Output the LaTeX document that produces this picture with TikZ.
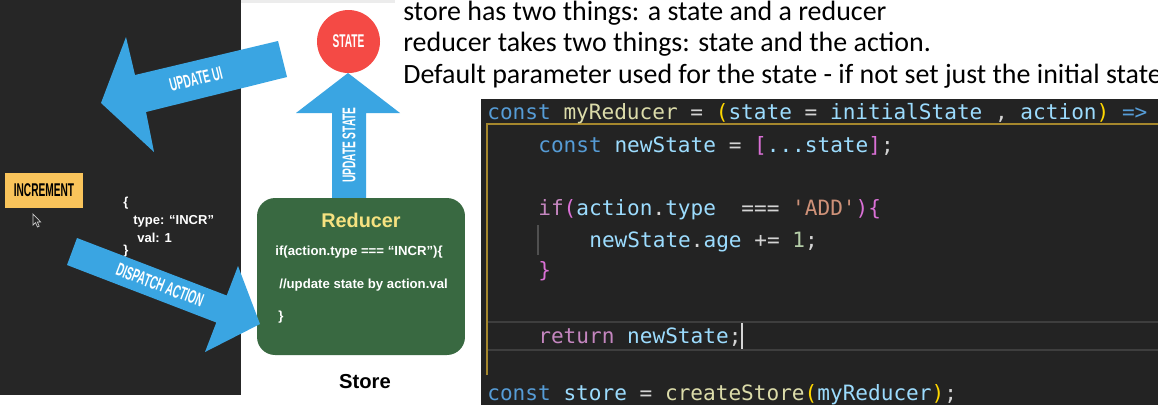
\documentclass[tikz,border=0pt]{standalone}
\usepackage{fontspec}
\usepackage{xcolor}
\setmainfont{Liberation Sans}
\setmonofont{DejaVu Sans Mono}
\newfontfamily\slidefont[FakeStretch=0.55]{Liberation Sans}
\newfontfamily\notefont{Carlito}

\definecolor{slidebg}{RGB}{38,38,38}
\definecolor{codebg}{RGB}{35,35,35}
\definecolor{stripgray}{RGB}{236,236,236}
\definecolor{arrowblue}{RGB}{58,165,226}
\definecolor{statered}{RGB}{244,74,69}
\definecolor{incyellow}{RGB}{249,196,91}
\definecolor{reducergreen}{RGB}{57,105,65}
\definecolor{reduceryellow}{RGB}{246,226,128}
\definecolor{framegold}{RGB}{165,135,45}
\definecolor{linegray}{RGB}{62,62,62}
\definecolor{guidegray}{RGB}{80,80,80}
\definecolor{ckw}{RGB}{86,156,214}
\definecolor{cfn}{RGB}{220,220,170}
\definecolor{cvar}{RGB}{156,220,254}
\definecolor{cop}{RGB}{212,212,212}
\definecolor{cbra}{RGB}{255,215,0}
\definecolor{cbrb}{RGB}{218,112,214}
\definecolor{cctl}{RGB}{197,134,192}
\definecolor{cstr}{RGB}{206,145,120}
\definecolor{cnum}{RGB}{181,206,168}

\newcommand{\kw}[1]{\textcolor{ckw}{#1}}
\newcommand{\fn}[1]{\textcolor{cfn}{#1}}
\newcommand{\vr}[1]{\textcolor{cvar}{#1}}
\newcommand{\bra}[1]{\textcolor{cbra}{#1}}
\newcommand{\brb}[1]{\textcolor{cbrb}{#1}}
\newcommand{\ctl}[1]{\textcolor{cctl}{#1}}

\begin{document}
\begin{tikzpicture}[x=0.02cm,y=-0.02cm,
  blockarrow/.style={fill=arrowblue},
  slidelabel/.style={text=white,inner sep=0pt,font=\slidefont\bfseries\fontsize{10.5}{11}\selectfont},
  noteline/.style={anchor=base west,inner sep=0pt,font=\notefont\fontsize{15.9}{18}\selectfont},
  codeline/.style={anchor=base west,inner sep=0pt,text=cop,font=\ttfamily\fontsize{12}{14}\selectfont},
  actiontext/.style={anchor=west,inner sep=0pt,text=white,font=\bfseries\fontsize{7.4}{9}\selectfont},
  reducertext/.style={anchor=west,inner sep=0pt,text=white,font=\bfseries\fontsize{7.5}{9}\selectfont}]
  \useasboundingbox (0,0) rectangle (1158,414);
  \clip (0,0) rectangle (1158,414);
  \fill[white] (0,0) rectangle (1158,414);

  % panels
  \fill[slidebg] (0,0) rectangle (241,395);
  \fill[stripgray] (241,0) rectangle (395,2.5);
  \fill[codebg] (481,99) rectangle (1158,405);

  % notes
  \node[noteline] (note1) at (403,20) {store has two things: a state and a reducer};
  \node[noteline] (note2) at (403,51) {reducer takes two things: state and the action.};
  \node[noteline] (note3) at (403,83) {Default parameter used for the state - if not set just the initial state};

  % editor
  \draw[framegold,line width=1pt] (487,375) -- (487,124) -- (1158,124);
  \draw[linegray,line width=1.2pt] (488,322) -- (1158,322);
  \draw[linegray,line width=1.2pt] (488,350) -- (1158,350);
  \draw[guidegray,line width=0.8pt] (538,225) -- (538,255);
  \node[codeline] (c1) at (487,119) {\kw{const} \fn{myReducer} = \bra{(}\vr{state} = \vr{initialState} , \vr{action}\bra{)} \kw{=>}};
  \node[codeline] (c2) at (538,152) {\kw{const} \vr{newState} = \brb{[}\vr{...state}\brb{]};};
  \node[codeline] (c3) at (538,215) {\ctl{if}\brb{(}\vr{action}.\vr{type}\ \ === \textcolor{cstr}{'ADD'}\brb{)\{}};
  \node[codeline] (c4) at (589,247) {\vr{newState}.\vr{age} += \textcolor{cnum}{1};};
  \node[codeline] (c5) at (538,277) {\brb{\}}};
  \node[codeline] (c6) at (538,343) {\ctl{return} \vr{newState};};
  \node[codeline] (c7) at (487,400) {\kw{const} \vr{store} = \fn{createStore}\bra{(}\vr{myReducer}\bra{)};};
  \draw[cop,line width=1.3pt] (742,323) -- (742,349);

  % action
  \node[fill=incyellow,minimum width=1.56cm,minimum height=0.7cm,inner sep=0pt,
    font=\slidefont\bfseries\fontsize{10.5}{11}\selectfont] (increment) at (44,190.5) {INCREMENT};
  \fill[black!85,draw=white!80!black,line width=0.4pt]
    (33,214) -- (33,225) -- (35.5,222.6) -- (37.5,227) -- (39.2,226.2) -- (37.3,221.9) -- (40.6,221.9) -- cycle;
  \node[actiontext] (ob) at (123,203) {\{};
  \node[actiontext] (otype) at (133,221) {type: “INCR”};
  \node[actiontext] (oval) at (137,238) {val: 1};
  \node[actiontext] (cb) at (123,251) {\}};

  % update ui
  \fill[blockarrow] (278,41) -- (135,75) -- (126,37) -- (101,103) -- (154,152) -- (146,112) -- (287,77) -- cycle;
  \node[slidelabel,rotate=14] (uilbl) at (196,79) {UPDATE UI};

  % store
  \node[circle,fill=statered,minimum size=1.26cm,inner sep=0pt,
    font=\slidefont\bfseries\fontsize{10.5}{11}\selectfont,text=white] (state) at (348.5,41.5) {STATE};
  \fill[blockarrow] (332,205) -- (332,113) -- (296,113) -- (348,73) -- (400,113) -- (366,113) -- (366,205) -- cycle;
  \node[slidelabel,rotate=90] (statelbl) at (349,145) {UPDATE STATE};
  \node[fill=reducergreen,rounded corners=0.36cm,minimum width=4.16cm,minimum height=3.14cm] (reducer) at (361,276.5) {};
  \node[text=reduceryellow,inner sep=0pt,font=\bfseries\fontsize{11.3}{13}\selectfont] (reducerlbl) at (361,220) {Reducer};
  \node[reducertext] (r1) at (275,252) {if(action.type === “INCR”)\{};
  \node[reducertext] (r2) at (279,285) {//update state by action.val};
  \node[reducertext] (r3) at (278,317) {\}};
  \node[inner sep=0pt,font=\bfseries\fontsize{11.5}{13}\selectfont] (storelbl) at (365,382) {Store};

  % dispatch
  \fill[blockarrow] (77,238) -- (226.7,295.5) -- (238,266) -- (260,324) -- (205,352) -- (216.3,322.5) -- (67,265) -- cycle;
  \node[slidelabel,rotate=-21] (dispatchlbl) at (160,285) {DISPATCH ACTION};
\end{tikzpicture}
\end{document}
